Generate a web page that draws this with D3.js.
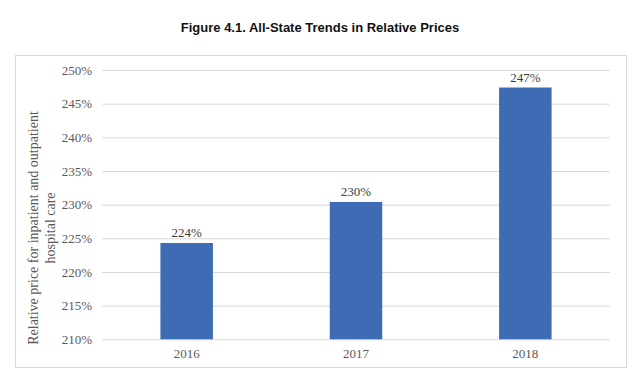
<!DOCTYPE html>
<html><head><meta charset="utf-8">
<script src="https://cdn.jsdelivr.net/npm/d3@7"></script>
<style>body{margin:0;background:#fff}svg{display:block}</style>
</head><body>
<script>
const categories = ["2016", "2017", "2018"];
const values = [224.3, 230.4, 247.4];
const labels = ["224%", "230%", "247%"];
const yTicks = [210, 215, 220, 225, 230, 235, 240, 245, 250];

const W = 639, H = 380;
const svg = d3.select("body").append("svg").attr("width", W).attr("height", H);
svg.append("rect").attr("width", W).attr("height", H).attr("fill", "#fff");

svg.append("text").attr("x", 320).attr("y", 32).attr("text-anchor", "middle")
  .attr("font-family", "Liberation Sans, Arial, sans-serif").attr("font-weight", "bold")
  .attr("font-size", 13).attr("fill", "#111").text("Figure 4.1. All-State Trends in Relative Prices");

svg.append("rect").attr("x", 15.5).attr("y", 55.5).attr("width", 611).attr("height", 312)
  .attr("fill", "none").attr("stroke", "#d9d9d9").attr("stroke-width", 1);

const m = {left: 102, right: 610, top: 70, bottom: 339.3};
const x = d3.scaleBand().domain(categories).range([m.left, m.right]).paddingInner(0.69).paddingOuter(0.345);
const y = d3.scaleLinear().domain([210, 250]).range([m.bottom, m.top]);

const serif = "Liberation Serif, Times New Roman, serif";

const yAxis = d3.axisLeft(y).tickValues(yTicks).tickFormat(d => d + "%").tickSize(-(m.right - m.left)).tickPadding(10);
const gy = svg.append("g").attr("transform", `translate(${m.left},0)`).call(yAxis);
gy.select(".domain").remove();
gy.selectAll(".tick line").attr("stroke", "#d9d9d9").attr("stroke-width", 1);
gy.selectAll(".tick text").attr("font-family", serif).attr("font-size", 13).attr("fill", "#595959");

const xAxis = d3.axisBottom(x).tickSize(0).tickPadding(9);
const gx = svg.append("g").attr("transform", `translate(0,${m.bottom})`).call(xAxis);
gx.select(".domain").remove();
gx.selectAll(".tick text").attr("font-family", serif).attr("font-size", 13).attr("fill", "#595959");

svg.append("g").selectAll("rect").data(values).join("rect")
  .attr("x", (d, i) => x(categories[i])).attr("width", x.bandwidth())
  .attr("y", d => y(d)).attr("height", d => y(210) - y(d)).attr("fill", "#3d6cb5");

svg.append("g").selectAll("text").data(values).join("text")
  .attr("x", (d, i) => x(categories[i]) + x.bandwidth() / 2).attr("y", d => y(d) - 6)
  .attr("text-anchor", "middle").attr("font-family", serif).attr("font-size", 13).attr("fill", "#404040")
  .text((d, i) => labels[i]);

const t = svg.append("text").attr("transform", "translate(0,228) rotate(-90)")
  .attr("text-anchor", "middle").attr("font-family", serif).attr("font-size", 14).attr("fill", "#595959");
t.append("tspan").attr("x", 0).attr("y", 38).text("Relative price for inpatient and outpatient");
t.append("tspan").attr("x", 0).attr("y", 55).text("hospital care");
</script>
</body></html>
